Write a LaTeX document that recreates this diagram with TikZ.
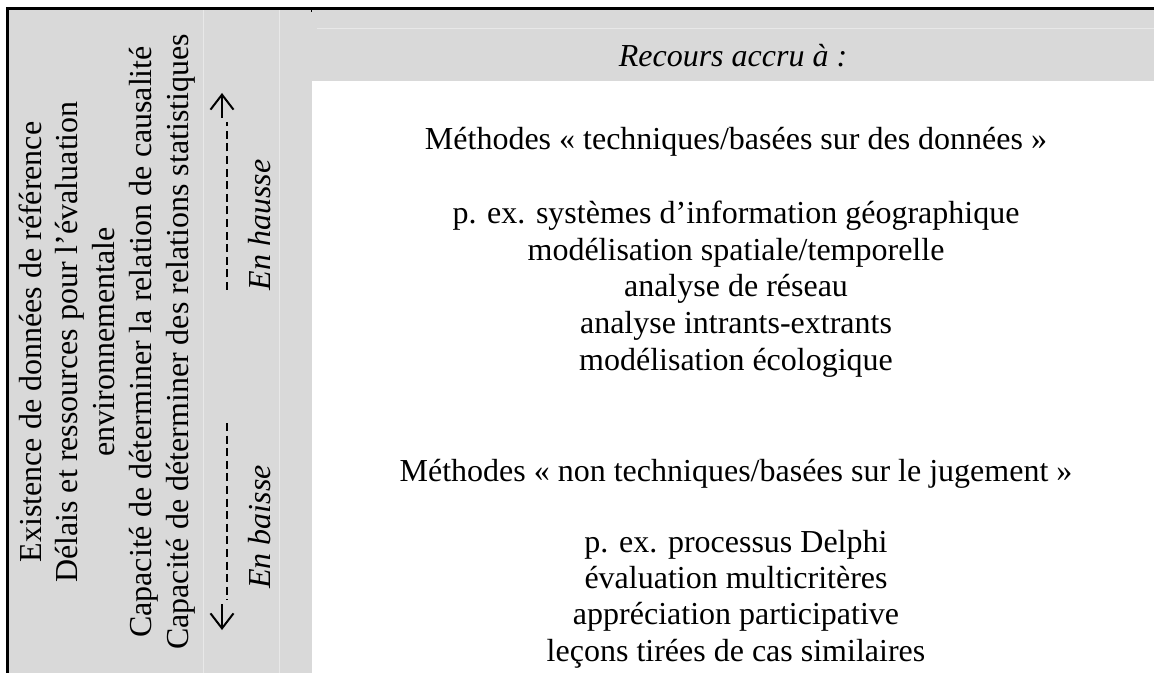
\documentclass[tikz,border=0pt]{standalone}
\usepackage{fontspec}
\setmainfont{Liberation Serif}
\usepackage{tikz}
\usetikzlibrary{arrows.meta}

\definecolor{cellgray}{RGB}{217,217,217}
\definecolor{rulegray}{RGB}{232,232,232}

\tikzset{
	txt/.style={font=\fontsize{16}{18.4}\selectfont, anchor=base, inner sep=0pt},
	itxt/.style={txt, font=\fontsize{16}{18.4}\selectfont\itshape},
	vtxt/.style={txt, rotate=90},
	vitxt/.style={itxt, rotate=90},
	trend/.style={line width=1pt},
	trendtip/.style={trend, -{Straight Barb[length=7.5pt, width=11.5pt]}},
	trenddash/.style={trend, dash pattern=on 4pt off 2.3pt}
}

\begin{document}
\begin{tikzpicture}[x=0.5pt, y=-0.5pt]
	\useasboundingbox (0,0) rectangle (1154,673);
	\fill [white] (0,0) rectangle (1154,673);
	% shaded cells
	\fill [cellgray] (9,10) rectangle (312,673);
	\fill [cellgray] (312,10) rectangle (1154,81);
	\draw [rulegray] (203,10) -- (203,673);
	\draw [rulegray] (279,10) -- (279,673);
	\draw [rulegray] (317,28) -- (1154,28);
	% outer rules
	\draw [line width=1.35pt] (6,8.7) -- (1154,8.7);
	\draw [line width=1.5pt] (7.5,8) -- (7.5,673);
	\draw [line width=0.6pt] (311.5,8) -- (311.5,12);

	% criteria, read upwards
	\node [vtxt] (existence) at (41,342) {Existence de données de référence};
	\node [vtxt] (delais) at (77.8,342) {Délais et ressources pour l’évaluation};
	\node [vtxt] (environ) at (114.6,342) {environnementale};
	\node [vtxt] (causalite) at (151.4,342) {Capacité de déterminer la relation de causalité};
	\node [vtxt] (statistiques) at (188.2,342) {Capacité de déterminer des relations statistiques};

	% trends
	\node [vitxt] (hausse) at (270,225) {En hausse};
	\node [vitxt] (baisse) at (270,527) {En baisse};
	\coordinate (hausse tip) at (222,93);
	\coordinate (hausse stem) at (222,118);
	\coordinate (hausse dash top) at (227,122);
	\coordinate (hausse dash end) at (227,290);
	\draw [trendtip] (hausse stem) -- (hausse tip);
	\draw [trenddash] (hausse dash end) -- (hausse dash top);
	\coordinate (baisse dash top) at (227,423);
	\coordinate (baisse dash end) at (227,600);
	\coordinate (baisse stem) at (222,604);
	\coordinate (baisse tip) at (222,630);
	\draw [trenddash] (baisse dash top) -- (baisse dash end);
	\draw [trendtip] (baisse stem) -- (baisse tip);

	% header
	\node [itxt] (recours) at (733,67) {Recours accru à :};

	% data based methods
	\node [txt] (techniques) at (736,150) {Méthodes « techniques/basées sur des données »};
	\node [txt] (sig) at (736,224) {p. ex. systèmes d’information géographique};
	\node [txt] (spatiale) at (736,260.5) {modélisation spatiale/temporelle};
	\node [txt] (reseau) at (736,297) {analyse de réseau};
	\node [txt] (intrants) at (736,333.5) {analyse intrants-extrants};
	\node [txt] (ecologique) at (736,370) {modélisation écologique};

	% judgement based methods
	\node [txt] (jugement) at (736,481) {Méthodes « non techniques/basées sur le jugement »};
	\node [txt] (delphi) at (736,552) {p. ex. processus Delphi};
	\node [txt] (multicriteres) at (736,588) {évaluation multicritères};
	\node [txt] (participative) at (736,624.5) {appréciation participative};
	\node [txt] (lecons) at (736,661) {leçons tirées de cas similaires};
\end{tikzpicture}
\end{document}
